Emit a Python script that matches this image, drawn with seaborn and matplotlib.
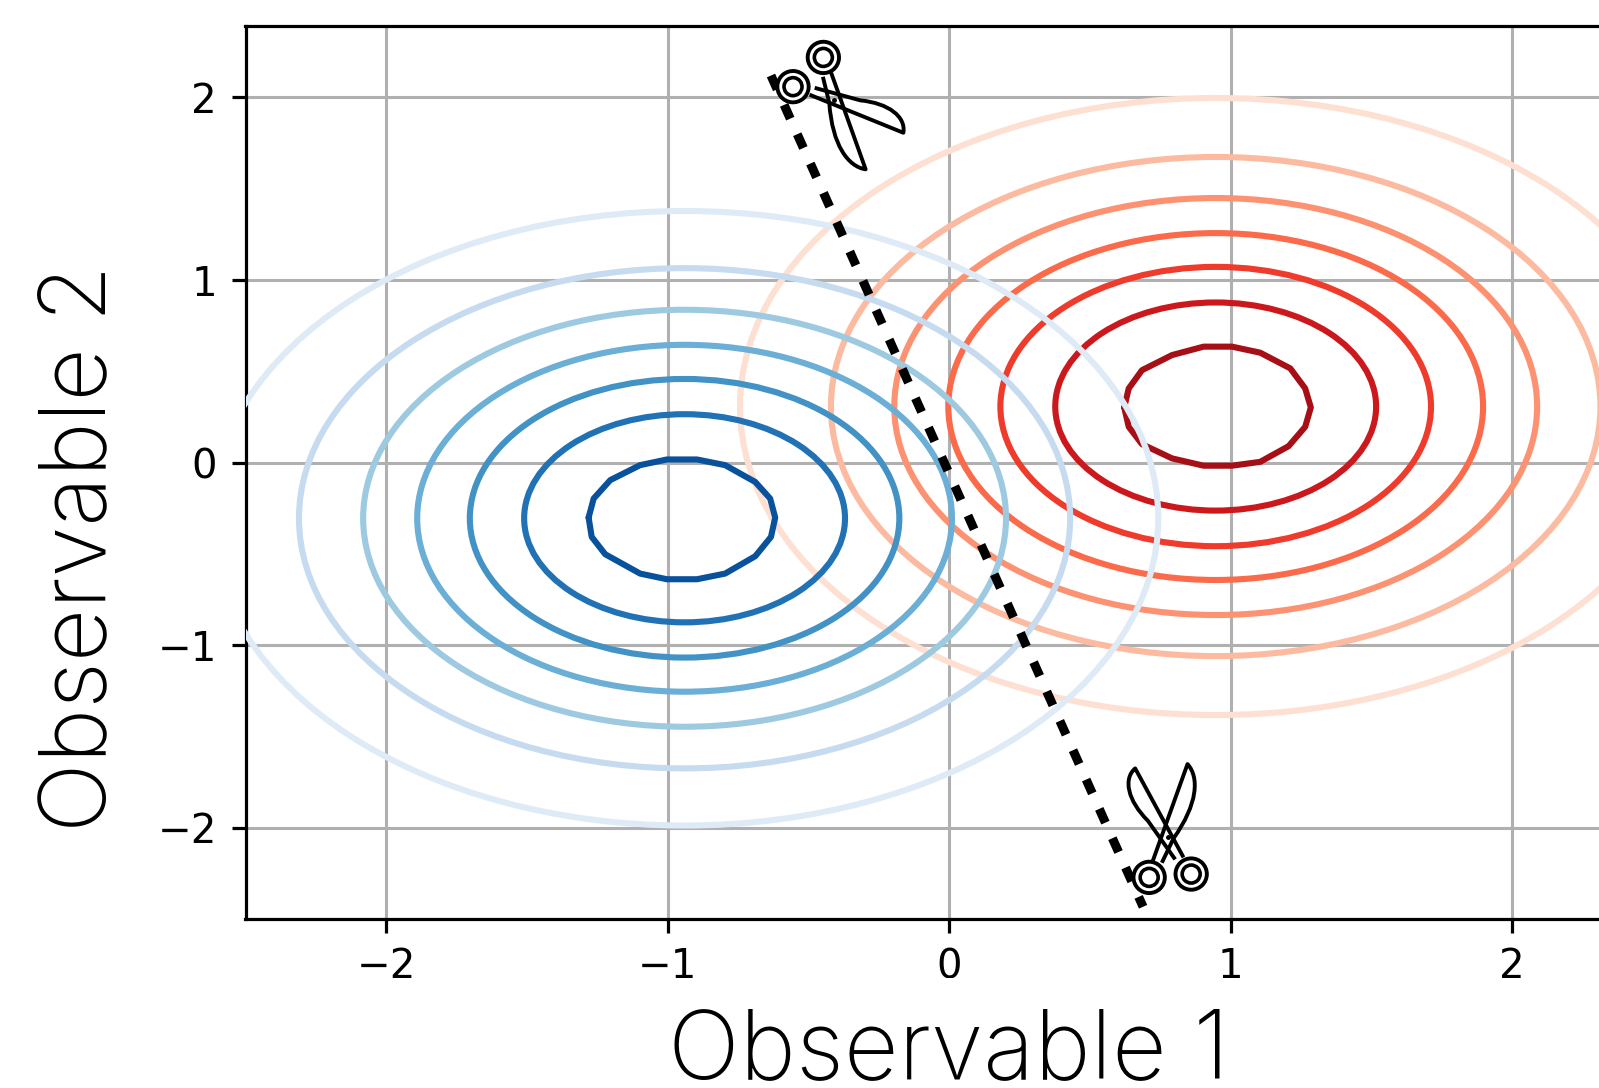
import numpy as np
import seaborn as sns
import matplotlib.pyplot as plt
from matplotlib.patches import Ellipse, PathPatch
from matplotlib.path import Path
from matplotlib.transforms import Affine2D

# centres and ring radii, outer to inner
blue_center = (-0.94, -0.305)
red_center = (0.947, 0.307)
blue_radii = [1.683, 1.37, 1.142, 0.95, 0.763, 0.57]
red_radii = [1.69, 1.367, 1.142, 0.95, 0.765, 0.57]

# the innermost contours are visibly faceted
blue_inner_x = [-1.281, -1.263, -1.204, -1.098, -1.003, -0.896, -0.796, -0.689, -0.636, -0.618,
                -0.633, -0.689, -0.796, -0.896, -1.003, -1.098, -1.222, -1.270, -1.281]
blue_inner_y = [-0.301, -0.197, -0.096, -0.014, 0.017, 0.017, -0.014, -0.106, -0.197, -0.301,
                -0.407, -0.513, -0.608, -0.639, -0.639, -0.608, -0.502, -0.407, -0.301]
red_inner_x = [0.622, 0.638, 0.685, 0.792, 0.904, 1.005, 1.105, 1.212, 1.265, 1.285,
               1.265, 1.206, 1.105, 1.005, 0.904, 0.792, 0.685, 0.638, 0.622]
red_inner_y = [0.302, 0.406, 0.506, 0.589, 0.635, 0.635, 0.602, 0.516, 0.406, 0.302,
               0.196, 0.090, 0.004, -0.017, -0.017, 0.023, 0.101, 0.196, 0.302]

cut_x = [-0.633, 0.689]
cut_y = [2.12, -2.433]

x_ticks = [-2, -1, 0, 1, 2]
y_ticks = [-2, -1, 0, 1, 2]

blue_colors = ["#deebf7", "#c6dbef", "#9ecae1", "#6baed6", "#4292c6", "#2171b5", "#08519c"]
red_colors = ["#fee0d2", "#fcbba1", "#fc9272", "#fb6a4a", "#ef3b2c", "#cb181d", "#a50f15"]


def draw_rings(ax, center, radii, inner_x, inner_y, colors):
    palette = sns.color_palette(colors)
    for r, c in zip(radii, palette):
        ax.add_patch(Ellipse(center, 2 * r, 2 * r, fill=False, ec=c, lw=4.4, zorder=3))
    sns.lineplot(x=inner_x, y=inner_y, sort=False, estimator=None, color=palette[-1],
                 lw=4.4, ax=ax, zorder=3)


# scissors icon, in zoomed pixels around the pivot (y up)
def draw_scissors(ax, x, y, angle):
    blade_a = Path([(47, -60), (-98, 207), (-135, 175), (-120, 110), (-60, 50), (22, -66)],
                   [Path.MOVETO, Path.LINETO, Path.CURVE4, Path.CURVE4, Path.CURVE4, Path.LINETO])
    blade_b = Path([(-45, -70), (59, 220), (95, 180), (90, 100), (17, -3), (-18, -76)],
                   [Path.MOVETO, Path.LINETO, Path.CURVE4, Path.CURVE4, Path.CURVE4, Path.LINETO])
    px, py = ax.transData.transform((x, y))
    tr = Affine2D().scale(1 / 3).rotate_deg(angle).translate(px, py)
    for blade in (blade_a, blade_b):
        ax.add_patch(PathPatch(blade, fc="none", ec="k", lw=2.8, joinstyle="round", transform=tr, zorder=6))
    for cx, cy in ((-56, -120), (70, -110)):
        ax.add_patch(PathPatch(Path.circle((cx, cy), 47), fc="white", ec="k", lw=2.8, transform=tr, zorder=6))
        ax.add_patch(PathPatch(Path.circle((cx, cy), 27), fc="white", ec="k", lw=2.6, transform=tr, zorder=6))
    ax.plot([x], [y], "o", color="k", ms=2.5, zorder=7)


sns.set_style("ticks")
plt.rcParams["font.family"] = ["DejaVu Sans"]
plt.rcParams["text.color"] = "k"
plt.rcParams["xtick.labelcolor"] = "k"
plt.rcParams["ytick.labelcolor"] = "k"
plt.rcParams["axes.labelcolor"] = "k"

fig = plt.figure(figsize=(15.99, 10.88), dpi=100)
ax = fig.add_axes([245.5 / 1599, 169 / 1088, 1407.3 / 1599, 893.3 / 1088])
ax.set_xlim(-2.5, 2.5)
ax.set_ylim(-2.5, 2.393)

ax.grid(True, color="#b0b0b0", lw=2.2, zorder=1)
ax.set_axisbelow(True)

draw_rings(ax, red_center, red_radii, red_inner_x, red_inner_y, red_colors)
draw_rings(ax, blue_center, blue_radii, blue_inner_x, blue_inner_y, blue_colors)

sns.lineplot(x=cut_x, y=cut_y, sort=False, estimator=None, color="k", lw=6.5,
             linestyle=(0, (1.67, 1.89)), ax=ax, zorder=5)

draw_scissors(ax, -0.408, 1.985, -140.6)
draw_scissors(ax, 0.777, -2.053, 0)

ax.set_xticks(x_ticks)
ax.set_yticks(y_ticks)
ax.tick_params(labelsize=29, width=2.3, length=10, pad=10.5, direction="out", color="k")
for s in ("top", "bottom", "left", "right"):
    ax.spines[s].set_visible(True)
    ax.spines[s].set_linewidth(2.3)
    ax.spines[s].set_color("k")

# the white box behind the x label clips the bottom of the tick labels, as in the original
ax.set_xlabel("Observable 1", fontsize=68.4, family="Inter", weight="light", va="center",
              bbox=dict(fc="white", ec="none", pad=22))
ax.set_ylabel("Observable 2", fontsize=66.5, family="Inter", weight="light", va="center")
ax.xaxis.set_label_coords(0.5, -0.15)
ax.yaxis.set_label_coords(-0.117, 0.4155)

fig.savefig("out.png", dpi=100)
